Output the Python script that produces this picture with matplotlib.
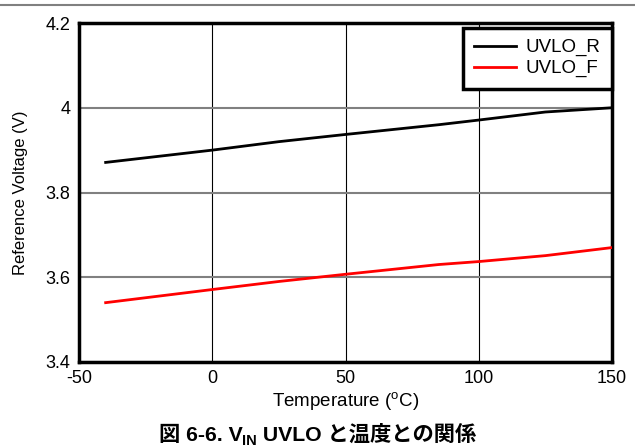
import matplotlib
matplotlib.use("Agg")
import matplotlib.pyplot as plt
from matplotlib.lines import Line2D

plt.rcParams['font.family'] = ['Liberation Sans', 'Noto Sans CJK JP', 'DejaVu Sans']
plt.rcParams['mathtext.fontset'] = 'custom'
plt.rcParams['mathtext.rm'] = 'Liberation Sans'
plt.rcParams['axes.unicode_minus'] = False

temperature = [-40, 0, 25, 50, 85, 100, 125, 150]
uvlo_r = [3.871, 3.900, 3.920, 3.937, 3.960, 3.971, 3.990, 4.000]
uvlo_f = [3.540, 3.571, 3.590, 3.607, 3.630, 3.637, 3.651, 3.670]

x_ticks = [-50, 0, 50, 100, 150]
y_ticks = [3.4, 3.6, 3.8, 4.0, 4.2]
y_tick_labels = ["3.4", "3.6", "3.8", "4", "4.2"]

fig = plt.figure(figsize=(6.35, 4.47), dpi=100)
ax = fig.add_axes([0.1244, 0.1902, 0.8394, 0.7583])

ax.plot(temperature, uvlo_r, color='black', lw=2, label='UVLO_R', zorder=3)
ax.plot(temperature, uvlo_f, color='#ff0000', lw=2, label='UVLO_F', zorder=3)

ax.set_xlim(-50, 150)
ax.set_ylim(3.4, 4.2)
ax.set_xticks(x_ticks)
ax.set_yticks(y_ticks)
ax.set_yticklabels(y_tick_labels)
ax.tick_params(length=0, labelsize=13, pad=6)

ax.xaxis.grid(True, color='black', lw=0.8)
ax.yaxis.grid(True, color='#808080', lw=1.5)
for s in ax.spines.values():
    s.set_linewidth(2.5)

ax.set_xlabel('Temperature ($^{\\mathrm{o}}$C)', fontsize=13.5, labelpad=2)
ax.set_ylabel('Reference Voltage (V)', fontsize=12, labelpad=13)

leg = ax.legend(loc='upper right', bbox_to_anchor=(1.0, 0.986), borderaxespad=0.0,
                fancybox=False, framealpha=1, fontsize=13.5, handlelength=2.2,
                labelspacing=0.2, borderpad=0.6, handletextpad=0.55)
leg.get_frame().set_edgecolor('black')
leg.get_frame().set_linewidth(2.5)

# caption assembled from pieces so the CJK fallback works next to the subscript
fig.canvas.draw()
renderer = fig.canvas.get_renderer()
pieces = [('図 6-6. V', 15.3, 0), ('IN', 10.5, -4), (' UVLO と温度との関係', 15.3, 0)]
texts = []
x = 0
for s, size, dy in pieces:
    t = fig.text(0, 0, s, fontsize=size, fontweight='bold', ha='left', va='baseline')
    w = t.get_window_extent(renderer).width
    texts.append((t, x, dy))
    x += w
start = (fig.bbox.width - x) / 2
base_y = 447 - 441
for t, xo, dy in texts:
    t.set_position(((start + xo) / fig.bbox.width, (base_y + dy) / fig.bbox.height))

fig.add_artist(Line2D([0, 1], [0.989, 0.989], color='#808080', lw=1.5, transform=fig.transFigure))

fig.savefig('out.png', dpi=100)
